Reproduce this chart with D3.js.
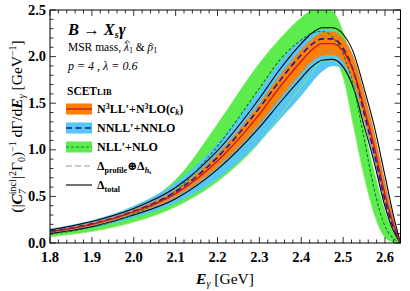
<!DOCTYPE html>
<html>
<head>
<meta charset="utf-8">
<script src="https://d3js.org/d3.v7.min.js"></script>
<style>
  body { margin: 0; background: #fff; }
  svg text { font-family: "Liberation Serif", "DejaVu Serif", serif; }
</style>
</head>
<body>
<svg width="410" height="291"></svg>
<script>
// photon energy grid [GeV]
var energies = [1.8, 1.9, 2.0, 2.1, 2.2, 2.3, 2.35, 2.4, 2.425, 2.45, 2.475, 2.5, 2.525, 2.55, 2.575, 2.6, 2.62, 2.637];

// N3LL'+N3LO(ck): central + band
var n3llMid = [0.12, 0.20, 0.335, 0.53, 0.88, 1.38, 1.68, 1.95, 2.07, 2.14, 2.14, 2.06, 1.84, 1.45, 1.02, 0.52, 0.20, 0.0];
var n3llHi  = [0.135, 0.22, 0.36, 0.575, 0.96, 1.50, 1.81, 2.08, 2.19, 2.26, 2.27, 2.20, 2.00, 1.62, 1.18, 0.66, 0.27, 0.0];
var n3llLo  = [0.108, 0.18, 0.31, 0.49, 0.81, 1.27, 1.55, 1.82, 1.94, 2.01, 2.02, 1.94, 1.72, 1.32, 0.90, 0.42, 0.15, 0.0];
// profile + h_s variations
var profHi  = [0.132, 0.215, 0.355, 0.57, 0.95, 1.48, 1.79, 2.06, 2.17, 2.24, 2.25, 2.18, 1.97, 1.58, 1.14, 0.63, 0.25, 0.0];
var profLo  = [0.11, 0.185, 0.315, 0.50, 0.83, 1.29, 1.57, 1.84, 1.96, 2.03, 2.04, 1.96, 1.74, 1.34, 0.92, 0.44, 0.16, 0.0];
// total uncertainty
var totHi   = [0.14, 0.23, 0.37, 0.595, 0.99, 1.55, 1.87, 2.14, 2.25, 2.31, 2.31, 2.24, 2.04, 1.66, 1.24, 0.72, 0.30, 0.0];
var totLo   = [0.102, 0.175, 0.30, 0.475, 0.79, 1.24, 1.51, 1.77, 1.89, 1.96, 1.97, 1.89, 1.66, 1.26, 0.85, 0.39, 0.13, 0.0];
// NNLL'+NNLO
var nnllMid = [0.125, 0.205, 0.34, 0.55, 0.92, 1.45, 1.75, 2.02, 2.13, 2.19, 2.19, 2.09, 1.84, 1.40, 0.95, 0.46, 0.17, 0.0];
var nnllHi  = [0.155, 0.245, 0.40, 0.65, 1.07, 1.64, 1.95, 2.18, 2.26, 2.29, 2.27, 2.16, 1.92, 1.49, 1.03, 0.52, 0.20, 0.0];
var nnllLo  = [0.095, 0.16, 0.27, 0.43, 0.69, 1.08, 1.33, 1.58, 1.72, 1.84, 1.90, 1.87, 1.70, 1.30, 0.86, 0.40, 0.14, 0.0];
// NLL'+NLO
var nllMid  = [0.095, 0.17, 0.31, 0.56, 1.04, 1.66, 1.97, 2.18, 2.25, 2.27, 2.21, 2.03, 1.68, 1.12, 0.56, 0.18, 0.05, 0.0];
var nllHi   = [0.13, 0.225, 0.38, 0.68, 1.28, 1.93, 2.20, 2.42, 2.50, 2.53, 2.49, 2.27, 1.87, 1.25, 0.76, 0.35, 0.12, 0.0];
var nllLo   = [0.068, 0.125, 0.225, 0.39, 0.66, 1.08, 1.37, 1.68, 1.83, 1.95, 1.96, 1.78, 1.25, 0.72, 0.30, 0.06, 0.01, 0.0];

var xMajor = [1.8, 1.9, 2.0, 2.1, 2.2, 2.3, 2.4, 2.5, 2.6];
var yMajor = [0.0, 0.5, 1.0, 1.5, 2.0, 2.5];

var svg = d3.select("svg"),
    margin = {top: 10, right: 9.5, bottom: 48, left: 50},
    width = +svg.attr("width") - margin.left - margin.right,
    height = +svg.attr("height") - margin.top - margin.bottom;

var x = d3.scaleLinear().domain([1.8, 2.637]).range([margin.left, margin.left + width]);
var y = d3.scaleLinear().domain([0, 2.5]).range([margin.top + height, margin.top]);

var pts = function(arr) { return energies.map(function(e, i) { return [e, arr[i]]; }); };
var band = function(lo, hi) { return energies.map(function(e, i) { return [e, lo[i], hi[i]]; }); };

var line = d3.line().curve(d3.curveMonotoneX)
    .x(function(d) { return x(d[0]); })
    .y(function(d) { return y(d[1]); });
var area = d3.area().curve(d3.curveMonotoneX)
    .x(function(d) { return x(d[0]); })
    .y0(function(d) { return y(d[1]); })
    .y1(function(d) { return y(d[2]); });

var plot = svg.append("g");
plot.append("clipPath").attr("id", "clip").append("rect")
    .attr("x", margin.left).attr("y", margin.top).attr("width", width).attr("height", height);
var g = plot.append("g").attr("clip-path", "url(#clip)");

// bands, widest first
g.append("path").attr("d", area(band(nllLo, nllHi))).attr("fill", "#5cec4e");
g.append("path").attr("d", area(band(nnllLo, nnllHi))).attr("fill", "#56c6f4");
g.append("path").attr("d", area(band(n3llLo, n3llHi))).attr("fill", "#ff8000");
g.append("path").attr("d", line(pts(nllLo))).attr("fill", "none")
    .attr("stroke", "#8fe870").attr("stroke-width", 0.9);

// profile variation, total uncertainty
[profHi, profLo].forEach(function(s) {
  g.append("path").attr("d", line(pts(s))).attr("fill", "none")
    .attr("stroke", "#9a9a9a").attr("stroke-width", 1.1).attr("stroke-dasharray", "6,3");
});
[totHi, totLo].forEach(function(s) {
  g.append("path").attr("d", line(pts(s))).attr("fill", "none")
    .attr("stroke", "#000").attr("stroke-width", 1.1);
});

// central values
g.append("path").attr("d", line(pts(nllMid))).attr("fill", "none")
    .attr("stroke", "#0d7a24").attr("stroke-width", 1.1).attr("stroke-dasharray", "3,2");
g.append("path").attr("d", line(pts(nnllMid))).attr("fill", "none")
    .attr("stroke", "#1a1a96").attr("stroke-width", 1.6).attr("stroke-dasharray", "6,3.5");
g.append("path").attr("d", line(pts(n3llMid))).attr("fill", "none")
    .attr("stroke", "#c41230").attr("stroke-width", 1.3);

// axes: ticks inward on all four sides
var xMinor = d3.range(1.8, 2.637, 0.02), yMinor = d3.range(0, 2.501, 0.1);
var x0 = margin.left, x1 = margin.left + width, y0 = margin.top + height, y1 = margin.top;
var ax = svg.append("g").attr("stroke", "#000").attr("stroke-width", 0.8);
xMinor.forEach(function(v) {
  var big = xMajor.some(function(m) { return Math.abs(m - v) < 1e-6; });
  var l = big ? 6 : 3.5;
  ax.append("line").attr("x1", x(v)).attr("x2", x(v)).attr("y1", y0).attr("y2", y0 - l);
  ax.append("line").attr("x1", x(v)).attr("x2", x(v)).attr("y1", y1).attr("y2", y1 + l);
});
yMinor.forEach(function(v) {
  var big = yMajor.some(function(m) { return Math.abs(m - v) < 1e-6; });
  var l = big ? 6 : 3.5;
  ax.append("line").attr("x1", x0).attr("x2", x0 + l).attr("y1", y(v)).attr("y2", y(v));
  ax.append("line").attr("x1", x1).attr("x2", x1 - l).attr("y1", y(v)).attr("y2", y(v));
});
svg.append("rect").attr("x", x0).attr("y", y1).attr("width", width).attr("height", height)
    .attr("fill", "none").attr("stroke", "#000").attr("stroke-width", 1);

// tick labels
svg.append("g").selectAll("text").data(xMajor).enter().append("text")
    .attr("x", function(d) { return x(d); }).attr("y", y0 + 19)
    .attr("text-anchor", "middle").attr("font-size", 14.5).attr("font-weight", "bold")
    .text(function(d) { return d.toFixed(1); });
svg.append("g").selectAll("text").data(yMajor).enter().append("text")
    .attr("x", x0 - 4).attr("y", function(d) { return y(d) + 4.5; })
    .attr("text-anchor", "end").attr("font-size", 14.5).attr("font-weight", "bold")
    .text(function(d) { return d.toFixed(1); });

// axis titles
var xl = svg.append("text").attr("x", 225).attr("y", 284).attr("text-anchor", "middle").attr("font-size", 15.5);
xl.append("tspan").attr("font-weight", "bold").attr("font-style", "italic").text("E");
xl.append("tspan").attr("font-size", 10).attr("font-style", "italic").attr("dy", 3).text("γ");
xl.append("tspan").attr("dy", -3).text(" [GeV]");

var yl = svg.append("text").attr("transform", "translate(22," + (y1 + height / 2) + ") rotate(-90)")
    .attr("text-anchor", "middle").attr("font-size", 15.5);
yl.append("tspan").text("(|");
yl.append("tspan").attr("font-weight", "bold").attr("font-style", "italic").text("C");
yl.append("tspan").attr("font-size", 10).attr("font-style", "italic").attr("dy", 3.5).text("7");
yl.append("tspan").attr("font-size", 10).attr("dx", -5).attr("dy", -10).text("incl");
yl.append("tspan").attr("dy", 6.5).text("|");
yl.append("tspan").attr("font-size", 10).attr("dy", -6).text("2");
yl.append("tspan").attr("dy", 6).text("Γ");
yl.append("tspan").attr("font-size", 10).attr("dy", 3).text("0");
yl.append("tspan").attr("dy", -3).text(")");
yl.append("tspan").attr("font-size", 10).attr("dy", -6).text("−1");
yl.append("tspan").attr("dy", 6).text(" dΓ/d");
yl.append("tspan").attr("font-weight", "bold").attr("font-style", "italic").text("E");
yl.append("tspan").attr("font-size", 10).attr("font-style", "italic").attr("dy", 3).text("γ");
yl.append("tspan").attr("dy", -3).text(" [GeV");
yl.append("tspan").attr("font-size", 10).attr("dy", -6).text("−1");
yl.append("tspan").attr("dy", 6).text("]");

// process annotation
var t1 = svg.append("text").attr("x", 68).attr("y", 35).attr("font-size", 16.5)
    .attr("font-weight", "bold").attr("font-style", "italic");
t1.append("tspan").text("B");
t1.append("tspan").attr("font-style", "normal").text(" → ");
t1.append("tspan").text("X");
t1.append("tspan").attr("font-size", 10).attr("dy", 3).text("s");
t1.append("tspan").attr("dy", -3).text("γ");

var t2 = svg.append("text").attr("x", 68).attr("y", 51).attr("font-size", 11.5);
t2.append("tspan").text("MSR mass, ");
t2.append("tspan").attr("font-style", "italic").text("λ");
t2.append("tspan").attr("font-size", 8).attr("dy", 2).text("1");
t2.append("tspan").attr("dy", -2).text(" & ");
t2.append("tspan").attr("font-style", "italic").text("ρ");
t2.append("tspan").attr("font-size", 8).attr("dy", 2).text("1");

// hats over lambda and rho, drawn from the glyph boxes
[[10, 1.5], [15, 4]].forEach(function(h) {
  var b = t2.node().getExtentOfChar(h[0]);
  var cx = b.x + b.width / 2 + 0.8, top = b.y + h[1];
  svg.append("path")
    .attr("d", "M" + (cx - 2.6) + "," + (top + 0.4) + "L" + cx + "," + (top - 2) + "L" + (cx + 2.6) + "," + (top + 0.4))
    .attr("fill", "none").attr("stroke", "#000").attr("stroke-width", 0.7);
});

svg.append("text").attr("x", 68).attr("y", 70).attr("font-size", 12)
    .attr("font-style", "italic").text("p = 4 , λ = 0.6");

// legend
var lg = svg.append("g");
var sc = lg.append("text").attr("x", 67).attr("y", 95).attr("font-size", 11.5).attr("font-weight", "bold");
sc.append("tspan").text("SCET");
sc.append("tspan").attr("font-size", 8.5).text("LIB");

var rows = [109, 128, 147, 166, 185];
var sx0 = 66, sx1 = 92;
var swatch = function(cy, fill, stroke, sw, dash) {
  if (fill) lg.append("rect").attr("x", sx0).attr("y", cy - 5.5).attr("width", sx1 - sx0).attr("height", 11).attr("fill", fill);
  lg.append("line").attr("x1", sx0).attr("x2", sx1).attr("y1", cy).attr("y2", cy)
    .attr("stroke", stroke).attr("stroke-width", sw).attr("stroke-dasharray", dash);
};
swatch(rows[0], "#ff8000", "#c41230", 1.3, null);
swatch(rows[1], "#56c6f4", "#1a1a96", 1.6, "6,3.5");
swatch(rows[2], "#5cec4e", "#0d7a24", 1.1, "3,2");
swatch(rows[3], null, "#9a9a9a", 1.1, "6,3");
swatch(rows[4], null, "#000", 1.1, null);

var lx = 97, fs = 12;
var e1 = lg.append("text").attr("x", lx).attr("y", rows[0] + 4).attr("font-size", fs).attr("font-weight", "bold");
e1.append("tspan").text("N");
e1.append("tspan").attr("font-size", 8).attr("dy", -4).text("3");
e1.append("tspan").attr("dy", 4).text("LL′+N");
e1.append("tspan").attr("font-size", 8).attr("dy", -4).text("3");
e1.append("tspan").attr("dy", 4).text("LO(");
e1.append("tspan").attr("font-style", "italic").text("c");
e1.append("tspan").attr("font-size", 8).attr("font-style", "italic").attr("dy", 2).text("k");
e1.append("tspan").attr("dy", -2).text(")");

lg.append("text").attr("x", lx).attr("y", rows[1] + 4).attr("font-size", fs).attr("font-weight", "bold").text("NNLL′+NNLO");
lg.append("text").attr("x", lx).attr("y", rows[2] + 4).attr("font-size", fs).attr("font-weight", "bold").text("NLL′+NLO");

var e4 = lg.append("text").attr("x", lx).attr("y", rows[3] + 4).attr("font-size", fs).attr("font-weight", "bold");
e4.append("tspan").text("Δ");
e4.append("tspan").attr("font-size", 8).attr("dy", 2.5).text("profile");
e4.append("tspan").attr("dy", -2.5).text("⊕Δ");
e4.append("tspan").attr("font-size", 8).attr("font-style", "italic").attr("dy", 2.5).text("h");
e4.append("tspan").attr("font-size", 6).attr("dy", 1).text("s");

var e5 = lg.append("text").attr("x", lx).attr("y", rows[4] + 4).attr("font-size", fs).attr("font-weight", "bold");
e5.append("tspan").text("Δ");
e5.append("tspan").attr("font-size", 8).attr("dy", 2.5).text("total");
</script>
</body>
</html>
